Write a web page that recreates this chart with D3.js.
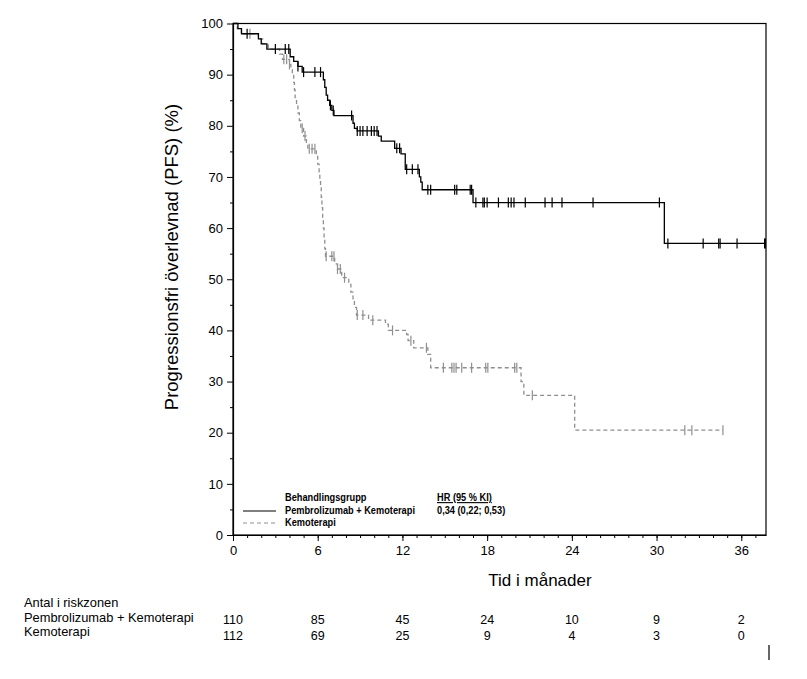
<!DOCTYPE html>
<html>
<head>
<meta charset="utf-8">
<script src="https://cdn.jsdelivr.net/npm/d3@7"></script>
<style>
  body { margin: 0; background: #fff; }
  svg { display: block; font-family: "Liberation Sans", Arial, sans-serif; }
</style>
</head>
<body>
<div id="container"></div>
<script>
const width = 807;
const height = 679;
const margin = { top: 23.5, right: 41, bottom: 144, left: 233 };

// Kaplan-Meier steps: [time (months), PFS (%)]
const pembroSteps = [
  [0, 100], [0.35, 99], [0.6, 98], [1.8, 97], [2.0, 96], [2.4, 95],
  [4.05, 93.5], [4.3, 92.6], [4.6, 91.6], [4.9, 90.5],
  [6.4, 89], [6.5, 87.5], [6.6, 86], [6.7, 85], [6.85, 84], [7.0, 83], [7.15, 82],
  [8.5, 80.5], [8.6, 79.5], [8.8, 79], [10.3, 78], [10.5, 77],
  [11.45, 75.6], [11.9, 74.5], [12.2, 71.5],
  [13.2, 70], [13.3, 69], [13.4, 67.5], [17.0, 65], [30.55, 57]
];
const pembroEnd = 37.75;
const pembroCensor = [
  1.0, 3.0, 3.7, 3.95, 4.6, 5.0, 5.8, 6.2, 6.9, 7.1, 8.4,
  8.8, 9.0, 9.2, 9.5, 9.8, 10.0, 10.2, 11.6, 11.8, 12.3, 12.7, 13.1,
  13.8, 14.0, 15.7, 15.85, 16.8, 16.9,
  17.2, 17.7, 17.8, 18.0, 18.8, 19.5, 19.7, 19.9, 20.7, 22.1, 22.6, 23.3, 25.5, 30.2,
  30.8, 33.3, 34.4, 34.5, 35.7, 37.65, 37.7
];

const kemoSteps = [
  [0, 100], [0.3, 99], [0.6, 98], [1.8, 97], [2.1, 96], [2.5, 95],
  [3.3, 94], [3.5, 93], [4.0, 92], [4.1, 91], [4.2, 90], [4.3, 88.5], [4.35, 87],
  [4.4, 85.5], [4.5, 84], [4.6, 82.5], [4.7, 81], [4.8, 79.5], [5.0, 78],
  [5.2, 76.5], [5.3, 75.5], [5.9, 74], [6.0, 72.5], [6.1, 71], [6.15, 69.5],
  [6.2, 68], [6.25, 66], [6.3, 64], [6.35, 62], [6.4, 60], [6.45, 58], [6.5, 56],
  [6.55, 54.5], [7.2, 53], [7.4, 52], [7.7, 50.3], [8.2, 49], [8.35, 47.5],
  [8.5, 46], [8.6, 44.5], [8.75, 43], [9.6, 42], [10.8, 41.2], [11.0, 40],
  [12.3, 39.2], [12.4, 38], [12.8, 36.6], [13.8, 35.3], [14.0, 32.7],
  [20.4, 30], [20.6, 27.3], [24.2, 20.5]
];
const kemoEnd = 34.7;
const kemoCensor = [
  1.2, 3.6, 3.8, 4.0, 4.9, 5.1, 5.4, 5.6, 5.8, 6.6, 7.0, 7.15, 7.4, 7.6, 7.9,
  8.8, 9.2, 9.9, 11.3, 12.6, 13.7,
  14.9, 15.5, 15.65, 15.8, 16.2, 16.9, 17.9, 18.05, 19.95, 20.1,
  21.2, 32.0, 32.5, 34.7
];

const xTicks = [0, 6, 12, 18, 24, 30, 36];
const yTicks = [0, 10, 20, 30, 40, 50, 60, 70, 80, 90, 100];

const riskGroups = ["Pembrolizumab + Kemoterapi", "Kemoterapi"];
const riskPembro = [110, 85, 45, 24, 10, 9, 2];
const riskKemo = [112, 69, 25, 9, 4, 3, 0];

const svg = d3.select("#container").append("svg")
  .attr("width", width).attr("height", height);

const x = d3.scaleLinear().domain([0, 37.75]).range([margin.left, width - margin.right]);
const y = d3.scaleLinear().domain([0, 100]).range([height - margin.bottom, margin.top]);

// frame
svg.append("rect")
  .attr("x", x(0)).attr("y", y(100))
  .attr("width", x(37.75) - x(0)).attr("height", y(0) - y(100))
  .attr("fill", "none").attr("stroke", "#000").attr("stroke-width", 1.2);

// x axis
const xAxis = svg.append("g").attr("transform", `translate(0,${y(0)})`)
  .call(d3.axisBottom(x).tickValues(xTicks).tickSize(6).tickSizeOuter(0).tickPadding(5));
svg.append("g").attr("transform", `translate(0,${y(0)})`)
  .call(d3.axisBottom(x).tickValues(d3.range(0, 38, 1)).tickSize(3).tickFormat("").tickSizeOuter(0))
  .call(g => g.select(".domain").remove());
xAxis.selectAll("text").attr("font-size", 13).attr("font-family", "Liberation Sans, Arial").attr("fill", "#000");

// y axis
const yAxis = svg.append("g").attr("transform", `translate(${x(0)},0)`)
  .call(d3.axisLeft(y).tickValues(yTicks).tickSize(6).tickSizeOuter(0).tickPadding(4));
svg.append("g").attr("transform", `translate(${x(0)},0)`)
  .call(d3.axisLeft(y).tickValues(d3.range(5, 100, 10)).tickSize(3).tickFormat("").tickSizeOuter(0))
  .call(g => g.select(".domain").remove());
yAxis.selectAll("text").attr("font-size", 13).attr("font-family", "Liberation Sans, Arial").attr("fill", "#000");
svg.selectAll(".domain").attr("stroke-width", 1.2);

// axis titles
svg.append("text")
  .attr("x", 540).attr("y", 586)
  .attr("text-anchor", "middle").attr("font-size", 17)
  .text("Tid i månader");
svg.append("text")
  .attr("transform", `translate(178,257) rotate(-90)`)
  .attr("text-anchor", "middle").attr("font-size", 18.5)
  .text("Progressionsfri överlevnad (PFS) (%)");

// curves
const line = d3.line().x(d => x(d[0])).y(d => y(d[1])).curve(d3.curveStepAfter);
const levelAt = (steps, t) => {
  let v = steps[0][1];
  for (const s of steps) if (s[0] <= t) v = s[1];
  return v;
};

function drawCurve(steps, end, censor, color, dash) {
  const pts = steps.concat([[end, steps[steps.length - 1][1]]]);
  svg.append("path").datum(pts)
    .attr("d", line)
    .attr("fill", "none").attr("stroke", color).attr("stroke-width", 1.3)
    .attr("stroke-dasharray", dash);
  svg.append("g").selectAll("line").data(censor).join("line")
    .attr("x1", d => x(d)).attr("x2", d => x(d))
    .attr("y1", d => y(levelAt(steps, d)) - 5)
    .attr("y2", d => y(levelAt(steps, d)) + 5)
    .attr("stroke", color).attr("stroke-width", 1.2);
}
drawCurve(kemoSteps, kemoEnd, kemoCensor, "#8f8f8f", "4,3");
drawCurve(pembroSteps, pembroEnd, pembroCensor, "#000", null);

// legend (condensed bold text)
const legend = svg.append("g").attr("font-size", 11).attr("font-weight", "bold");
const legendText = (tx, ty, s) => legend.append("text")
  .attr("transform", `translate(${tx},${ty}) scale(0.84,1)`).text(s);
legendText(285, 501, "Behandlingsgrupp");
legendText(437, 501, "HR (95 % KI)").attr("text-decoration", "underline");
legend.append("line").attr("x1", 243).attr("x2", 276).attr("y1", 511).attr("y2", 511)
  .attr("stroke", "#000").attr("stroke-width", 1.2);
legendText(285, 514, riskGroups[0]);
legendText(437, 514, "0,34 (0,22; 0,53)");
legend.append("line").attr("x1", 243).attr("x2", 276).attr("y1", 523).attr("y2", 523)
  .attr("stroke", "#8f8f8f").attr("stroke-width", 1.2).attr("stroke-dasharray", "4,3");
legendText(285, 526, riskGroups[1]);

// risk table
const table = svg.append("g").attr("font-size", 12.5);
const tableText = (tx, ty, s) => table.append("text")
  .attr("transform", `translate(${tx},${ty}) scale(1.03,1)`).text(s);
tableText(24, 607, "Antal i riskzonen");
tableText(24, 622, riskGroups[0]);
tableText(24, 636, riskGroups[1]);
table.selectAll(".r1").data(riskPembro).join("text")
  .attr("x", (d, i) => x(xTicks[i])).attr("y", 624)
  .attr("text-anchor", "middle").text(d => d);
table.selectAll(".r2").data(riskKemo).join("text")
  .attr("x", (d, i) => x(xTicks[i])).attr("y", 640)
  .attr("text-anchor", "middle").text(d => d);
svg.append("line").attr("x1", 769).attr("x2", 769).attr("y1", 645).attr("y2", 660)
  .attr("stroke", "#000").attr("stroke-width", 1.2);
</script>
</body>
</html>
